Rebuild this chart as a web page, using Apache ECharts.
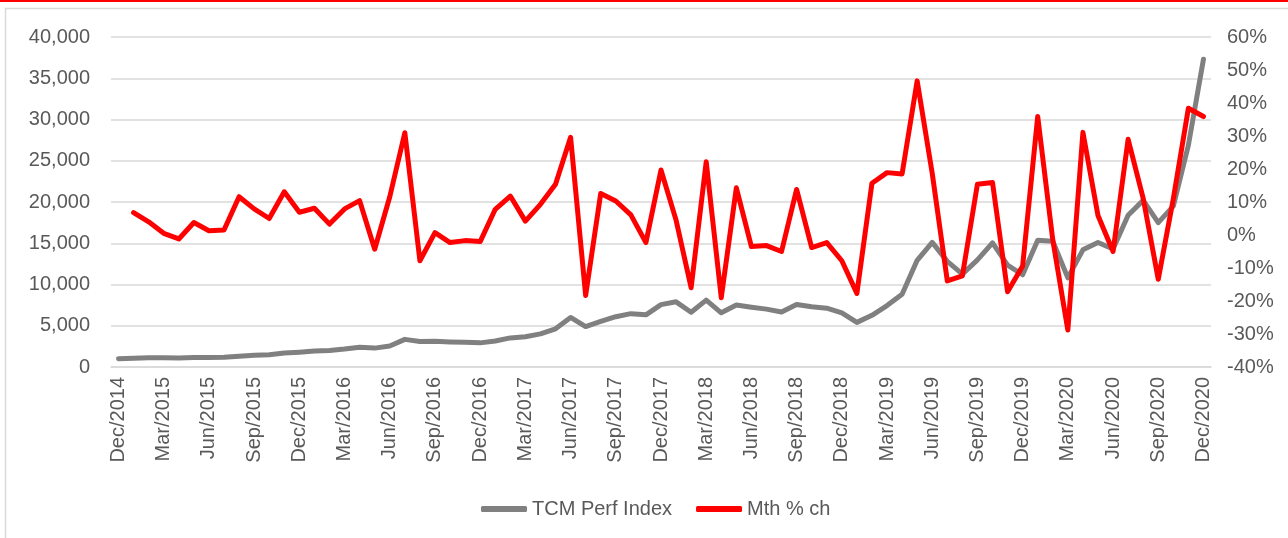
<!DOCTYPE html>
<html>
<head>
<meta charset="utf-8">
<script src="https://cdn.jsdelivr.net/npm/echarts@6/dist/echarts.min.js"></script>
<style>
  html, body { margin: 0; padding: 0; background: #fff; }
  #main { width: 1288px; height: 538px; }
</style>
</head>
<body>
<div id="main"></div>
<script>
// months, Dec 2014 .. Dec 2020
var months = [
  "Dec/2014",
  "Jan/2015","Feb/2015","Mar/2015","Apr/2015","May/2015","Jun/2015","Jul/2015","Aug/2015","Sep/2015","Oct/2015","Nov/2015","Dec/2015",
  "Jan/2016","Feb/2016","Mar/2016","Apr/2016","May/2016","Jun/2016","Jul/2016","Aug/2016","Sep/2016","Oct/2016","Nov/2016","Dec/2016",
  "Jan/2017","Feb/2017","Mar/2017","Apr/2017","May/2017","Jun/2017","Jul/2017","Aug/2017","Sep/2017","Oct/2017","Nov/2017","Dec/2017",
  "Jan/2018","Feb/2018","Mar/2018","Apr/2018","May/2018","Jun/2018","Jul/2018","Aug/2018","Sep/2018","Oct/2018","Nov/2018","Dec/2018",
  "Jan/2019","Feb/2019","Mar/2019","Apr/2019","May/2019","Jun/2019","Jul/2019","Aug/2019","Sep/2019","Oct/2019","Nov/2019","Dec/2019",
  "Jan/2020","Feb/2020","Mar/2020","Apr/2020","May/2020","Jun/2020","Jul/2020","Aug/2020","Sep/2020","Oct/2020","Nov/2020","Dec/2020"
];

// TCM Perf Index (left axis)
var perfIndex = [
  1000,
  1070, 1110, 1115, 1100, 1145, 1160, 1180, 1315, 1420, 1490, 1685, 1800,
  1945, 2010, 2170, 2395, 2290, 2555, 3350, 3090, 3110, 3040, 2985, 2925,
  3155, 3525, 3675, 4015, 4635, 6005, 4905, 5525, 6095, 6465, 6320, 7560,
  7900, 6640, 8110, 6570, 7510, 7245, 7015, 6665, 7585, 7295, 7130, 6570,
  5410, 6260, 7440, 8815, 12935, 15100, 12800, 11250, 12980, 15050, 12350, 11180,
  15350, 15250, 10800, 14200, 15100, 14300, 18400, 20200, 17500, 19500, 26900, 37300
];

// Mth % ch (right axis), none for the first month
var mthChange = [
  null,
  6.8, 4.0, 0.5, -1.2, 3.8, 1.3, 1.5, 11.6, 7.9, 5.0, 13.1, 6.9,
  8.1, 3.3, 7.9, 10.4, -4.3, 11.6, 31.0, -7.8, 0.7, -2.3, -1.7, -2.0,
  7.8, 11.8, 4.2, 9.3, 15.4, 29.6, -18.3, 12.6, 10.3, 6.1, -2.3, 19.7,
  4.5, -16.0, 22.2, -19.0, 14.3, -3.5, -3.2, -5.0, 13.8, -3.8, -2.3, -7.8,
  -17.7, 15.7, 18.9, 18.5, 46.7, 18.7, -13.9, -12.4, 15.4, 15.9, -17.2, -9.4,
  35.9, -1.5, -28.8, 31.1, 5.9, -5.0, 29.0, 11.1, -13.4, 11.0, 38.4, 35.9
];

var txt = '#595959';
var grid = '#d9d9d9';
var font = 'Liberation Sans, Arial, sans-serif';

var chart = echarts.init(document.getElementById('main'));
var option = {
  backgroundColor: '#fff',
  animation: false,
  textStyle: { fontFamily: font },
  graphic: [
    { type: 'rect', shape: { x: 0, y: 0, width: 1288, height: 2 }, style: { fill: '#ff0000' } },
    { type: 'rect', shape: { x: 5.5, y: 8.5, width: 1300, height: 540 },
      style: { fill: 'none', stroke: grid, lineWidth: 1.5 } }
  ],
  grid: { left: 111, right: 77, top: 37, bottom: 171 },
  legend: {
    left: 476, top: 494,
    itemWidth: 46, itemHeight: 6, itemGap: 24,
    icon: 'roundRect',
    textStyle: { color: txt, fontSize: 20, fontFamily: font },
    data: ['TCM Perf Index', 'Mth % ch']
  },
  xAxis: {
    type: 'category',
    data: months,
    boundaryGap: true,
    axisLine: { lineStyle: { color: grid, width: 1.5 } },
    axisTick: { interval: 2, length: 7, lineStyle: { color: grid, width: 1.5 } },
    axisLabel: { interval: 2, rotate: 90, margin: 10, color: txt, fontSize: 20, fontFamily: font }
  },
  yAxis: [
    {
      type: 'value', min: 0, max: 40000, interval: 5000,
      axisLine: { show: false }, axisTick: { show: false },
      splitLine: { lineStyle: { color: grid, width: 1.5 } },
      axisLabel: {
        margin: 21, color: txt, fontSize: 20, fontFamily: font,
        formatter: function (v) { return v.toLocaleString('en-US'); }
      }
    },
    {
      type: 'value', min: -40, max: 60, interval: 10,
      axisLine: { show: false }, axisTick: { show: false },
      splitLine: { show: false },
      axisLabel: { margin: 16, color: txt, fontSize: 20, fontFamily: font, formatter: '{value}%' }
    }
  ],
  series: [
    {
      name: 'TCM Perf Index', type: 'line', yAxisIndex: 0,
      data: perfIndex, symbol: 'none', itemStyle: { color: '#808080' },
      lineStyle: { color: '#808080', width: 5, join: 'round', cap: 'round' }
    },
    {
      name: 'Mth % ch', type: 'line', yAxisIndex: 1,
      data: mthChange, symbol: 'none', itemStyle: { color: '#ff0000' },
      lineStyle: { color: '#ff0000', width: 5, join: 'round', cap: 'round' }
    }
  ]
};
chart.setOption(option);
</script>
</body>
</html>
